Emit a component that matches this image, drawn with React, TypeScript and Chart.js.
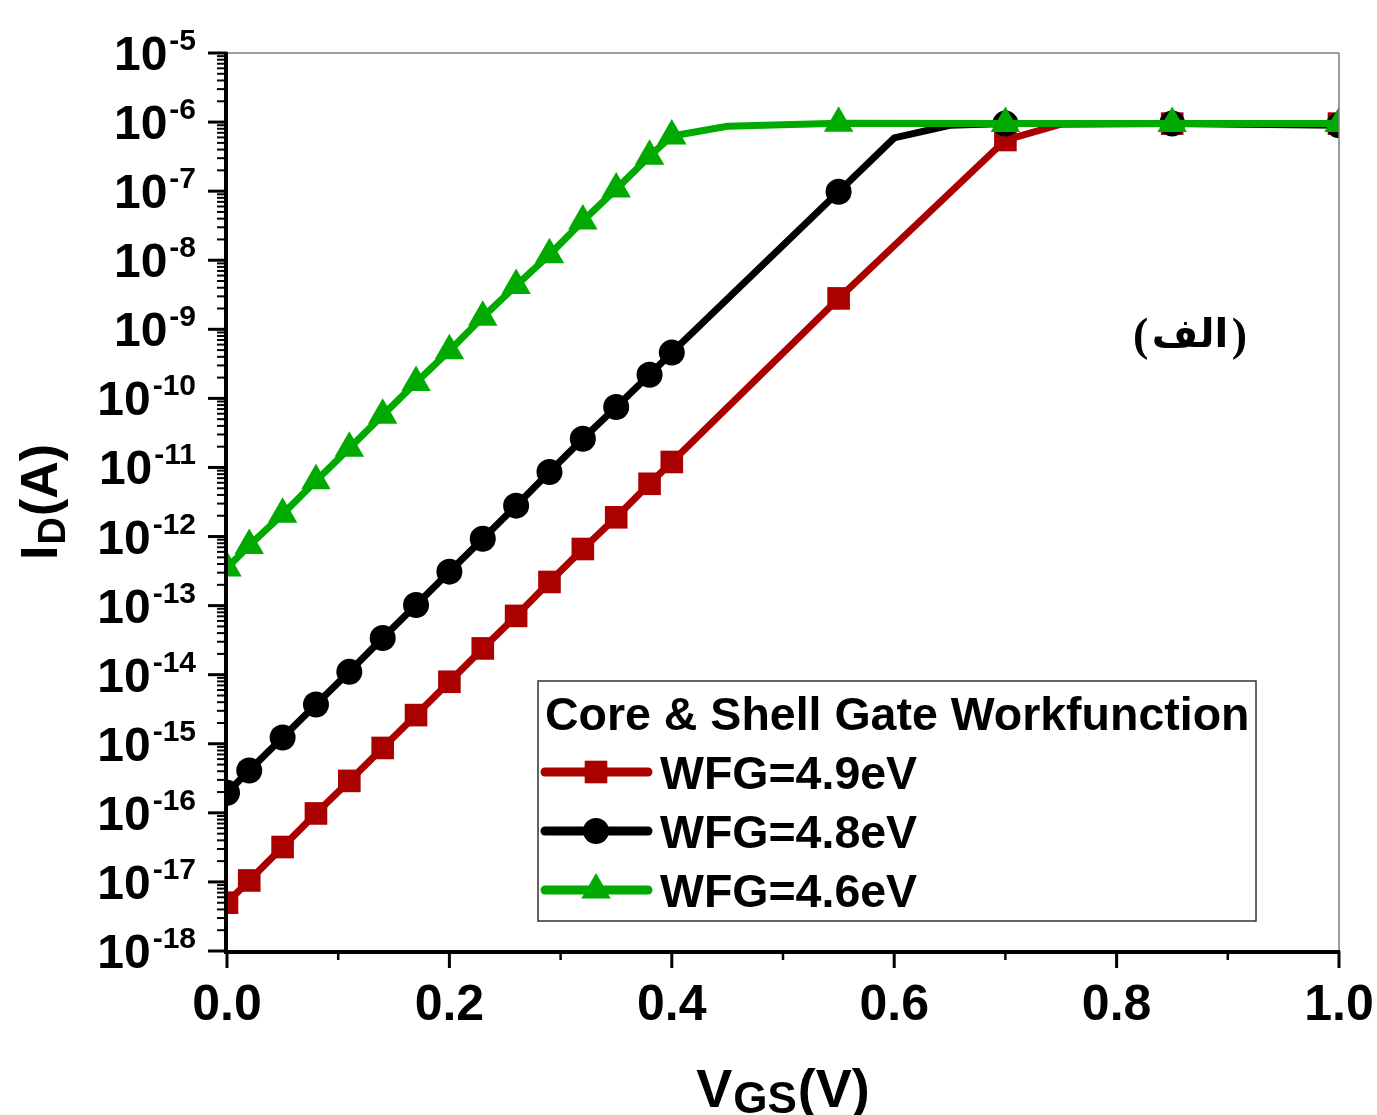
import React, { useEffect, useRef } from "react";
import { Chart, registerables } from "chart.js";

Chart.register(...registerables);

// ---- data ----
const vgs49 = [0, 0.02, 0.05, 0.08, 0.11, 0.14, 0.17, 0.2, 0.23, 0.26, 0.29, 0.32, 0.35, 0.38, 0.4, 0.55, 0.7, 0.75, 0.85, 1.0];
const id49 = [5e-18, 1.05e-17, 3.2e-17, 9.8e-17, 2.9e-16, 8.7e-16, 2.6e-15, 7.9e-15, 2.4e-14, 7.1e-14, 2.2e-13, 6.6e-13, 1.9e-12, 5.8e-12, 1.2e-11, 2.8e-9, 5.5e-7, 9.3e-7, 9.5e-7, 9.5e-7];
const mark49 = [1, 1, 1, 1, 1, 1, 1, 1, 1, 1, 1, 1, 1, 1, 1, 1, 1, 0, 1, 1];

const vgs48 = [0, 0.02, 0.05, 0.08, 0.11, 0.14, 0.17, 0.2, 0.23, 0.26, 0.29, 0.32, 0.35, 0.38, 0.4, 0.55, 0.6, 0.65, 0.7, 0.85, 1.0];
const id48 = [1.95e-16, 4.1e-16, 1.23e-15, 3.7e-15, 1.1e-14, 3.4e-14, 1.02e-13, 3.1e-13, 9.3e-13, 2.8e-12, 8.6e-12, 2.6e-11, 7.5e-11, 2.2e-10, 4.6e-10, 9.8e-8, 5.9e-7, 9.0e-7, 9.5e-7, 9.5e-7, 9.0e-7];
const mark48 = [1, 1, 1, 1, 1, 1, 1, 1, 1, 1, 1, 1, 1, 1, 1, 1, 0, 0, 1, 1, 1];

const vgs46 = [0, 0.02, 0.05, 0.08, 0.11, 0.14, 0.17, 0.2, 0.23, 0.26, 0.29, 0.32, 0.35, 0.38, 0.4, 0.45, 0.55, 0.7, 0.85, 1.0];
const id46 = [3.5e-13, 7.4e-13, 2.1e-12, 6.4e-12, 1.9e-11, 5.7e-11, 1.7e-10, 4.9e-10, 1.5e-9, 4.3e-9, 1.2e-8, 3.7e-8, 1.07e-7, 3.2e-7, 6.3e-7, 8.7e-7, 9.6e-7, 9.5e-7, 9.5e-7, 9.5e-7];
const mark46 = [1, 1, 1, 1, 1, 1, 1, 1, 1, 1, 1, 1, 1, 1, 1, 0, 1, 1, 1, 1];

const seriesLabels = ["WFG=4.9eV", "WFG=4.8eV", "WFG=4.6eV"];
const seriesColors = ["#AA0000", "#000000", "#00AA00"];
const legendTitle = "Core & Shell Gate Workfunction";
const xTickValues = [0, 0.2, 0.4, 0.6, 0.8, 1.0];
const xTickLabels = ["0.0", "0.2", "0.4", "0.6", "0.8", "1.0"];
const yDecadeExps = [-5, -6, -7, -8, -9, -10, -11, -12, -13, -14, -15, -16, -17, -18];
const panelTagWord = "الف";

const BOLD = '"Liberation Sans", Arial, sans-serif';

function pts(xs: number[], ys: number[]) {
  return xs.map((x, i) => ({ x, y: ys[i] }));
}

function drawMarker(ctx: CanvasRenderingContext2D, style: string, x: number, y: number, r: number, color: string) {
  ctx.fillStyle = color;
  ctx.beginPath();
  if (style === "rect") {
    const s = Math.SQRT1_2 * r;
    ctx.rect(x - s, y - s, 2 * s, 2 * s);
  } else if (style === "circle") {
    ctx.arc(x, y, r, 0, Math.PI * 2);
  } else {
    for (let k = 0; k < 3; k++) {
      const a = (k * 2 * Math.PI) / 3;
      const px = x + Math.sin(a) * r;
      const py = y - Math.cos(a) * r;
      if (k === 0) ctx.moveTo(px, py);
      else ctx.lineTo(px, py);
    }
    ctx.closePath();
  }
  ctx.fill();
}

const overlay = {
  id: "overlay",
  afterDatasetsDraw(chart: any) {
    const ctx: CanvasRenderingContext2D = chart.ctx;
    const xs = chart.scales.x;
    const ys = chart.scales.y;
    const { left, right, top, bottom } = chart.chartArea;
    ctx.save();

    // thin top / right frame
    ctx.strokeStyle = "#7f7f7f";
    ctx.lineWidth = 1.5;
    ctx.beginPath();
    ctx.moveTo(left, top);
    ctx.lineTo(right, top);
    ctx.moveTo(right, top);
    ctx.lineTo(right, bottom);
    ctx.stroke();

    // thick left / bottom axes
    ctx.strokeStyle = "#000";
    ctx.lineWidth = 4;
    ctx.beginPath();
    ctx.moveTo(left - 1, top - 1);
    ctx.lineTo(left - 1, bottom + 3);
    ctx.moveTo(left - 3, bottom + 1);
    ctx.lineTo(right + 1, bottom + 1);
    ctx.stroke();

    // y ticks
    for (let e = -18; e <= -5; e++) {
      const yv = ys.getPixelForValue(Math.pow(10, e));
      ctx.lineWidth = 3;
      ctx.beginPath();
      ctx.moveTo(left - 19, yv);
      ctx.lineTo(left, yv);
      ctx.stroke();
      if (e < -5) {
        for (let k = 2; k <= 9; k++) {
          const ym = ys.getPixelForValue(k * Math.pow(10, e));
          ctx.lineWidth = 2;
          ctx.beginPath();
          ctx.moveTo(left - 10, ym);
          ctx.lineTo(left, ym);
          ctx.stroke();
        }
      }
    }

    // x ticks
    for (let i = 0; i <= 10; i++) {
      const v = i / 10;
      const xp = xs.getPixelForValue(v);
      const major = i % 2 === 0;
      ctx.lineWidth = major ? 3 : 2.5;
      ctx.beginPath();
      ctx.moveTo(xp, bottom);
      ctx.lineTo(xp, bottom + (major ? 17 : 9));
      ctx.stroke();
    }

    // x tick labels
    ctx.fillStyle = "#000";
    ctx.font = `bold 50px ${BOLD}`;
    ctx.textAlign = "center";
    ctx.textBaseline = "alphabetic";
    xTickValues.forEach((v, i) => {
      ctx.fillText(xTickLabels[i], xs.getPixelForValue(v), 1020);
    });

    // y tick labels 10^n
    yDecadeExps.forEach((e) => {
      const yv = ys.getPixelForValue(Math.pow(10, e));
      ctx.font = `bold 48px ${BOLD}`;
      const wBase = ctx.measureText("10").width;
      ctx.font = `bold 30px ${BOLD}`;
      const sup = String(e);
      const wSup = ctx.measureText(sup).width;
      const endX = 196;
      const startX = endX - wSup - 2 - wBase;
      ctx.textAlign = "left";
      ctx.font = `bold 48px ${BOLD}`;
      ctx.fillText("10", startX, yv + 17);
      ctx.font = `bold 30px ${BOLD}`;
      ctx.fillText(sup, startX + wBase + 2, yv - 3);
    });

    // y axis title I_D(A)
    ctx.save();
    ctx.translate(57, 560);
    ctx.rotate(-Math.PI / 2);
    ctx.textAlign = "left";
    ctx.font = `bold 52px ${BOLD}`;
    ctx.fillText("I", 0, 0);
    let off = ctx.measureText("I").width + 1;
    ctx.font = `bold 38px ${BOLD}`;
    ctx.fillText("D", off, 8);
    off += ctx.measureText("D").width + 1;
    ctx.font = `bold 52px ${BOLD}`;
    ctx.fillText("(A)", off, 0);
    ctx.restore();

    // x axis title V_GS(V)
    {
      ctx.textAlign = "left";
      ctx.font = `bold 54px ${BOLD}`;
      const wV = ctx.measureText("V").width;
      const wP = ctx.measureText("(V)").width;
      ctx.font = `bold 44px ${BOLD}`;
      const wGS = ctx.measureText("GS").width;
      const total = wV + wGS + wP + 2;
      const cx = (left + right) / 2;
      let x0 = cx - total / 2;
      ctx.font = `bold 54px ${BOLD}`;
      ctx.fillText("V", x0, 1107);
      x0 += wV + 1;
      ctx.font = `bold 44px ${BOLD}`;
      ctx.fillText("GS", x0, 1113);
      x0 += wGS + 1;
      ctx.font = `bold 54px ${BOLD}`;
      ctx.fillText("(V)", x0, 1107);
    }

    // panel tag (parentheses + Arabic word)
    ctx.font = `bold 46px "Liberation Serif", serif`;
    ctx.textAlign = "left";
    ctx.fillText("(", 1133, 350);
    ctx.textAlign = "right";
    ctx.fillText(")", 1247, 350);
    ctx.textAlign = "center";
    ctx.font = `bold 40px "DejaVu Sans", sans-serif`;
    ctx.fillText(panelTagWord, 1190, 347);

    // legend
    const bx = 538, by = 681, bw = 718, bh = 240;
    ctx.fillStyle = "#fff";
    ctx.fillRect(bx, by, bw, bh);
    ctx.strokeStyle = "#333";
    ctx.lineWidth = 1.5;
    ctx.strokeRect(bx, by, bw, bh);
    ctx.fillStyle = "#000";
    ctx.textAlign = "left";
    ctx.font = `bold 46.5px ${BOLD}`;
    ctx.fillText(legendTitle, 545, 730);
    const styles = ["rect", "circle", "triangle"];
    const radii = [16, 13, 17];
    const rowY = [772, 831, 890];
    seriesLabels.forEach((lab, i) => {
      const yy = rowY[i];
      ctx.strokeStyle = seriesColors[i];
      ctx.lineWidth = 9;
      ctx.lineCap = "round";
      ctx.beginPath();
      ctx.moveTo(545, yy);
      ctx.lineTo(648, yy);
      ctx.stroke();
      drawMarker(ctx, styles[i], 596, yy, radii[i], seriesColors[i]);
      ctx.fillStyle = "#000";
      ctx.font = `bold 46.5px ${BOLD}`;
      ctx.fillText(lab, 660, yy + 17);
    });

    ctx.restore();
  },
};

export default function App() {
  const ref = useRef<HTMLCanvasElement | null>(null);

  useEffect(() => {
    document.body.style.margin = "0";
    const canvas = ref.current;
    if (!canvas) return;
    const mk = (xs: number[], ys: number[], m: number[], idx: number, style: string, r: number, order: number) => ({
      label: seriesLabels[idx],
      data: pts(xs, ys),
      borderColor: seriesColors[idx],
      backgroundColor: seriesColors[idx],
      pointBackgroundColor: seriesColors[idx],
      pointBorderColor: seriesColors[idx],
      borderWidth: 7,
      pointStyle: style,
      pointRadius: m.map((v) => (v ? r : 0)),
      pointBorderWidth: 0,
      tension: 0,
      order,
    });
    const chart = new Chart(canvas, {
      type: "line",
      data: {
        datasets: [
          mk(vgs49, id49, mark49, 0, "rect", 16, 3),
          mk(vgs48, id48, mark48, 1, "circle", 13, 2),
          mk(vgs46, id46, mark46, 2, "triangle", 17, 1),
        ],
      },
      options: {
        animation: false,
        responsive: false,
        devicePixelRatio: 1,
        layout: { padding: { left: 227, right: 38, top: 53, bottom: 164 } },
        plugins: { legend: { display: false }, tooltip: { enabled: false } },
        scales: {
          x: {
            type: "linear",
            min: 0,
            max: 1,
            grid: { display: false },
            border: { display: false },
            ticks: { display: false },
            afterFit: (s: any) => { s.height = 0; },
          },
          y: {
            type: "logarithmic",
            min: 1e-18,
            max: 1e-5,
            grid: { display: false },
            border: { display: false },
            ticks: { display: false },
            afterFit: (s: any) => { s.width = 0; },
          },
        },
      } as any,
      plugins: [overlay],
    });
    return () => chart.destroy();
  }, []);

  return (
    <div style={{ position: "absolute", left: 0, top: 0, width: 1377, height: 1115, background: "#fff" }}>
      <canvas ref={ref} width={1377} height={1115} style={{ display: "block" }} />
    </div>
  );
}
